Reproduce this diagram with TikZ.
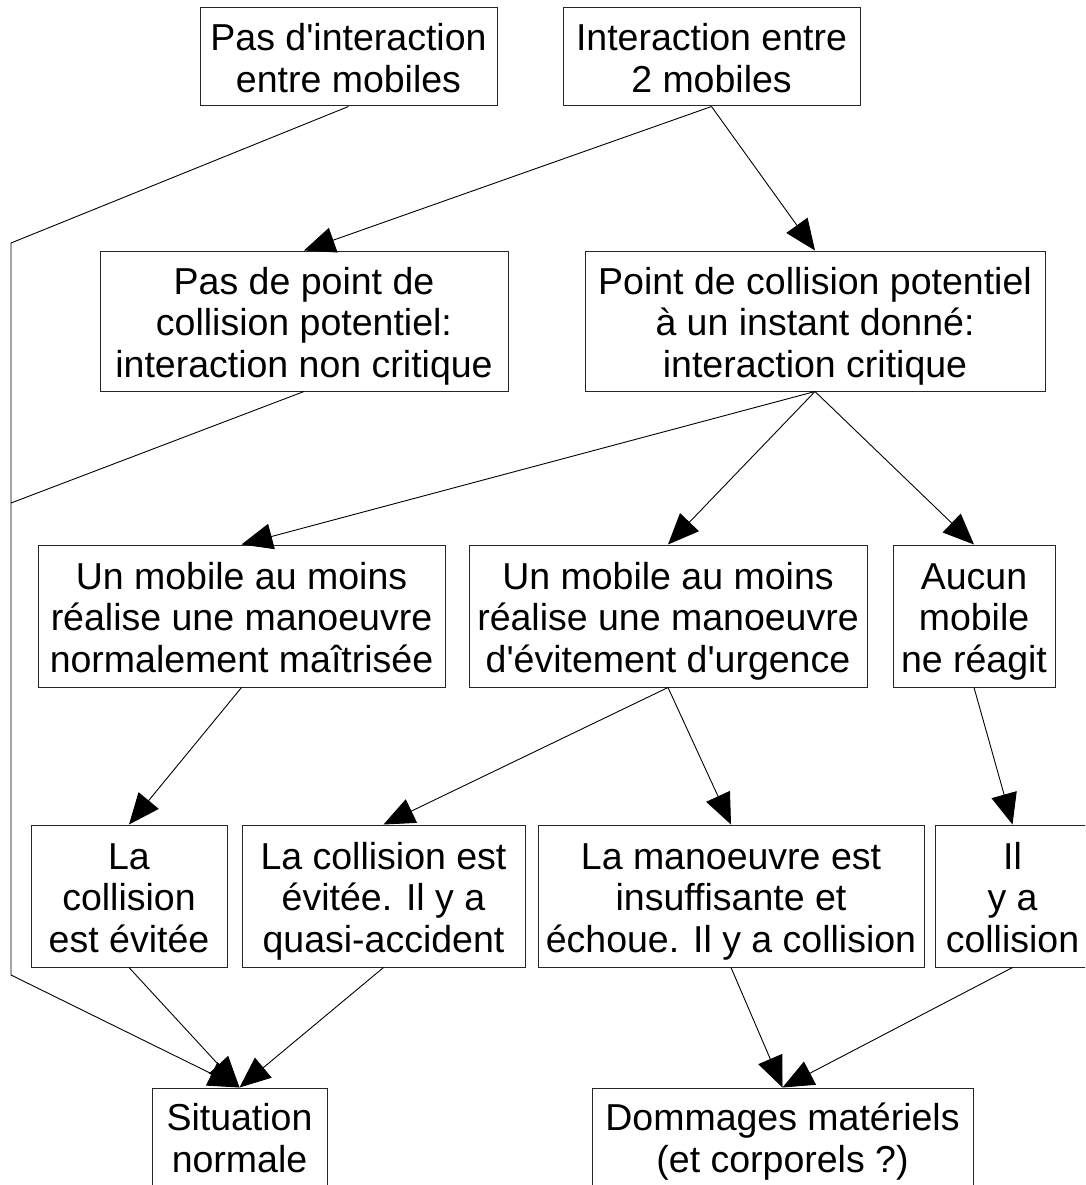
\documentclass[tikz,border=0pt]{standalone}
\usepackage{fontspec}
\newfontfamily\lsans{Liberation Sans}
\usetikzlibrary{arrows.meta}
\newcommand\topstrut{\rule{0pt}{38pt}}
\newcommand\botstrut{\rule[-9pt]{0pt}{9pt}}
\begin{document}
\begin{tikzpicture}[x=1pt,y=-1pt,
  box/.style={draw=black!85,line width=1pt,inner sep=0pt,align=center,
    font=\lsans\fontsize{37.5}{41.5}\selectfont},
  conn/.style={line width=0.9pt,draw=black},
  arr/.style={conn,-{Triangle[length=31pt,width=26pt]}}]
\useasboundingbox (0,0) rectangle (1085,1185);
\clip (0,0) rectangle (1085,1185);
\fill[white] (0,0) rectangle (1085,1185);
\node[box,minimum width=297pt,minimum height=98pt] (b1) at (348.5,57) {\topstrut Pas d'interaction\\entre mobiles\botstrut};
\node[box,minimum width=297pt,minimum height=98pt] (b2) at (711.5,57) {\topstrut Interaction entre\\2 mobiles\botstrut};
\node[box,minimum width=408pt,minimum height=140pt] (b3) at (304,321) {\topstrut Pas de point de\\collision potentiel:\\interaction non critique\botstrut};
\node[box,minimum width=460pt,minimum height=140pt] (b4) at (815,321) {\topstrut Point de collision potentiel\\à un instant donné:\\interaction critique\botstrut};
\node[box,minimum width=407pt,minimum height=142pt] (b5) at (241.5,616) {\topstrut Un mobile au moins\\réalise une manoeuvre\\normalement maîtrisée\botstrut};
\node[box,minimum width=398pt,minimum height=142pt] (b6) at (668,616) {\topstrut Un mobile au moins\\réalise une manoeuvre\\d'évitement d'urgence\botstrut};
\node[box,minimum width=162pt,minimum height=142pt] (b7) at (974,616) {\topstrut Aucun\\mobile\\ne réagit\botstrut};
\node[box,minimum width=196pt,minimum height=142pt] (b8) at (129,896) {\topstrut La\\collision\\est évitée\botstrut};
\node[box,minimum width=283pt,minimum height=142pt] (b9) at (383.5,896) {\topstrut La collision est\\évitée. Il y a\\quasi-accident\botstrut};
\node[box,minimum width=386pt,minimum height=142pt] (b10) at (731,896) {\topstrut La manoeuvre est\\insuffisante et\\échoue. Il y a collision\botstrut};
\node[box,minimum width=155pt,minimum height=142pt] (b11) at (1012.5,896) {\topstrut Il\\y a\\collision\botstrut};
\node[box,minimum width=175pt,minimum height=98pt] (b12) at (239.5,1137) {\topstrut Situation\\normale\botstrut};
\node[box,minimum width=381pt,minimum height=98pt] (b13) at (782.5,1137) {\topstrut Dommages matériels\\(et corporels ?)\botstrut};
\coordinate (c1) at (11,243);
\coordinate (c2) at (11,975);
\coordinate (c3) at (11,503);
\draw[arr] (b1.south) -- (c1) -- (c2) -- (b12.north);
\draw[conn] (b3.south) -- (c3);
\draw[arr] (b2.south) -- (b3.north);
\draw[arr] (b2.south) -- (b4.north);
\draw[arr] (b4.south) -- (b5.north);
\draw[arr] (b4.south) -- (b6.north);
\draw[arr] (b4.south) -- (b7.north);
\draw[arr] (b5.south) -- (b8.north);
\draw[arr] (b6.south) -- (b9.north);
\draw[arr] (b6.south) -- (b10.north);
\draw[arr] (b7.south) -- (b11.north);
\draw[arr] (b8.south) -- (b12.north);
\draw[arr] (b9.south) -- (b12.north);
\draw[arr] (b10.south) -- (b13.north);
\draw[arr] (b11.south) -- (b13.north);
\end{tikzpicture}
\end{document}
